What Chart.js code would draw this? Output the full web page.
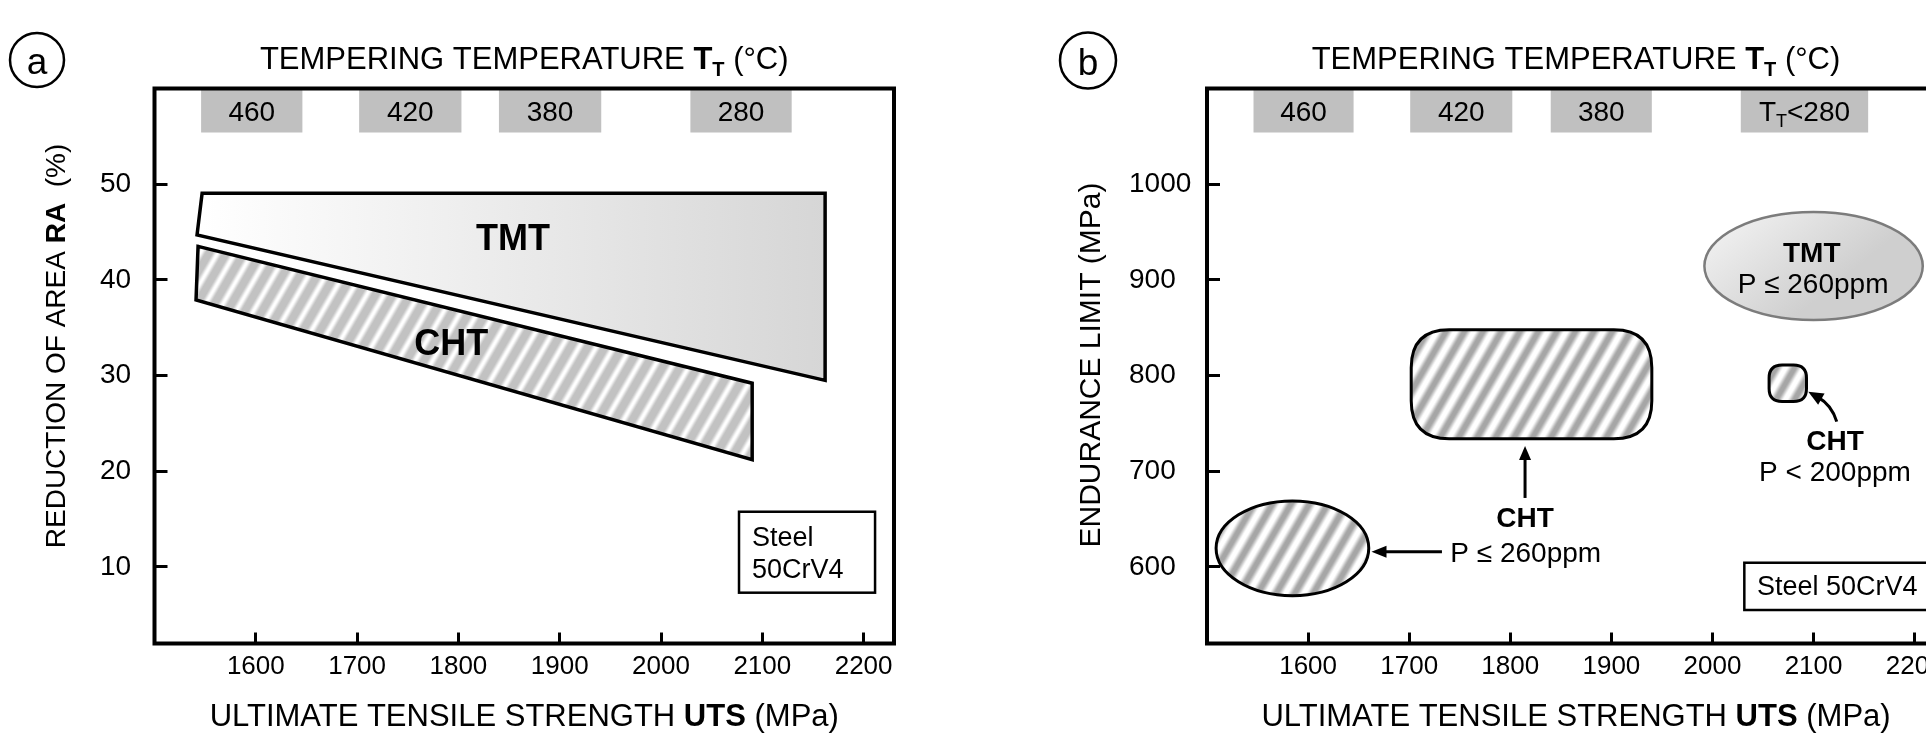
<!DOCTYPE html>
<html>
<head>
<meta charset="utf-8">
<title>UTS vs RA and endurance limit, 50CrV4</title>
<script src="https://cdn.jsdelivr.net/npm/chart.js@4.4.1/dist/chart.umd.min.js"></script>
<style>
  html, body { margin: 0; padding: 0; background: #fff; overflow: hidden; }
  #wrap { position: relative; width: 1926px; height: 741px; overflow: hidden; }
  canvas { position: absolute; top: 0; }
  #chartA { left: 0; }
  #chartB { left: 1000px; }
</style>
</head>
<body>
<div id="wrap">
  <canvas id="chartA" width="1000" height="741"></canvas>
  <canvas id="chartB" width="1000" height="741"></canvas>
</div>
<script>
// values
const utsTicks = [1600, 1700, 1800, 1900, 2000, 2100, 2200];
const raTicks = [10, 20, 30, 40, 50];
const enduranceTicks = [600, 700, 800, 900, 1000];

// tempering temperature bands (UTS span of each grey box)
const temperLabelsA = ['460', '420', '380', '280'];
const temperFromA = [1546, 1702, 1840, 2029];
const temperToA = [1646, 1803, 1941, 2129];
const temperLabelsB = ['460', '420', '380', 'T_T<280'];
const temperFromB = [1546, 1701, 1840, 2028];
const temperToB = [1645, 1802, 1940, 2154];

// panel a: RA bands, corners in order
const tmtUts = [1547, 2162, 2162, 1542];
const tmtRa = [49.05, 49.05, 29.5, 44.7];
const chtUts = [1543, 2090, 2090, 1541];
const chtRa = [43.5, 29.2, 21.2, 37.9];

// panel b: endurance limit regions
const regionNames = ['CHT P≤260ppm', 'CHT P≤260ppm', 'CHT P<200ppm', 'TMT P≤260ppm'];
const regionUtsLo = [1509, 1702, 2056, 1992];
const regionUtsHi = [1660, 1940, 2093, 2208];
const regionElLo = [570, 734, 773, 858];
const regionElHi = [669, 848, 811, 971];

const FONT = "'Liberation Sans', Arial, Helvetica, sans-serif";

function setFont(ctx, size, bold) {
  ctx.font = (bold ? 'bold ' : '') + size + 'px ' + FONT;
}
const R = (t, s) => ({ t, size: s, bold: false });
const B = (t, s) => ({ t, size: s, bold: true });
const SUB = (t, s, dy, bold) => ({ t, size: s, bold: !!bold, dy });

// draws mixed-weight text on one baseline
function richText(ctx, parts, x, y, opts = {}) {
  const align = opts.align || 'center';
  ctx.save();
  ctx.translate(x, y);
  if (opts.rotate) ctx.rotate(opts.rotate);
  ctx.scale(opts.sx || 1, 1);
  ctx.fillStyle = '#000';
  ctx.textBaseline = 'alphabetic';
  ctx.textAlign = 'left';
  let total = 0;
  const widths = parts.map(p => {
    setFont(ctx, p.size, p.bold);
    const w = ctx.measureText(p.t).width;
    total += w;
    return w;
  });
  let cx = align === 'center' ? -total / 2 : (align === 'right' ? -total : 0);
  parts.forEach((p, i) => {
    setFont(ctx, p.size, p.bold);
    ctx.fillText(p.t, cx, p.dy || 0);
    cx += widths[i];
  });
  ctx.restore();
}

function makeHatch(canvas, color, period, a, b) {
  const tile = document.createElement('canvas');
  tile.width = period;
  tile.height = period;
  const g = tile.getContext('2d');
  const grad = g.createLinearGradient(0, 0, period, 0);
  grad.addColorStop(0, '#fff');
  grad.addColorStop(a, '#fff');
  grad.addColorStop(b, color);
  grad.addColorStop(1 - b, color);
  grad.addColorStop(1 - a, '#fff');
  grad.addColorStop(1, '#fff');
  g.fillStyle = grad;
  g.fillRect(0, 0, period, period);
  const pat = canvas.getContext('2d').createPattern(tile, 'repeat');
  pat.setTransform(new DOMMatrix().rotate(30));
  return pat;
}

function closedPath(xs, ys) {
  const pts = xs.map((x, i) => ({ x, y: ys[i] }));
  pts.push(pts[0], pts[1]);
  return pts;
}

function bandBoxes(from, to, lo, hi) {
  return from.map((f, i) => ({
    data: closedPath([f, to[i], to[i], f], [hi, hi, lo, lo]),
    fill: 'shape',
    backgroundColor: '#c0c0c0',
    borderColor: 'rgba(0,0,0,0)',
    borderWidth: 0
  }));
}

function axes(yMin, yMax, yTicks, yWidth) {
  return {
    x: {
      type: 'linear', min: 1500, max: 2230,
      afterBuildTicks: s => { s.ticks = utsTicks.map(v => ({ value: v })); },
      afterFit: s => { s.height = 60; },
      border: { display: false },
      grid: { drawOnChartArea: false, drawTicks: true, tickLength: -11, tickWidth: 3, tickColor: '#000' },
      ticks: { color: '#000', font: { family: FONT, size: 26 }, padding: 19, maxRotation: 0, autoSkip: false, callback: v => String(v) }
    },
    y: {
      type: 'linear', min: yMin, max: yMax,
      afterBuildTicks: s => { s.ticks = yTicks.map(v => ({ value: v })); },
      afterFit: s => { s.width = yWidth; },
      border: { display: false },
      grid: { drawOnChartArea: false, drawTicks: true, tickLength: -13, tickWidth: 3, tickColor: '#000' },
      ticks: { color: '#000', font: { family: FONT, size: 28 }, crossAlign: 'far', autoSkip: false, callback: v => String(v) }
    }
  };
}

function frame(chart) {
  const { ctx, chartArea: a } = chart;
  ctx.save();
  ctx.strokeStyle = '#000';
  ctx.lineWidth = 4;
  ctx.strokeRect(a.left, a.top, a.right - a.left, a.bottom - a.top);
  ctx.restore();
}

function circleLabel(ctx, ch, cx, cy, r) {
  ctx.save();
  ctx.lineWidth = 2.5;
  ctx.strokeStyle = '#000';
  ctx.beginPath();
  ctx.ellipse(cx, cy, r, r, 0, 0, Math.PI * 2);
  ctx.stroke();
  ctx.restore();
  richText(ctx, [R(ch, 37)], cx, cy + 14);
}

function temperText(ctx, label, px, py) {
  const s = 28;
  const base = py + 0.358 * s;
  if (label.startsWith('T_T')) {
    richText(ctx, [R('T', s), SUB('T', 18, 6), R(label.slice(3), s)], px, base);
  } else {
    richText(ctx, [R(label, s)], px, base);
  }
}

function titles(chart, yTitleParts, yTitleX, yTitleY) {
  const { ctx, chartArea: a } = chart;
  const mid = (a.left + a.right) / 2;
  richText(ctx, [R('TEMPERING TEMPERATURE ', 31), B('T', 31), SUB('T', 20, 7, true), R(' (°C)', 31)], mid, a.top - 20);
  richText(ctx, [R('ULTIMATE TENSILE STRENGTH ', 31), B('UTS', 31), R(' (MPa)', 31)], mid, a.bottom + 82);
  richText(ctx, yTitleParts, yTitleX, yTitleY, { rotate: -Math.PI / 2 });
}

function arrowHead(ctx, tx, ty, ang, len, half) {
  ctx.save();
  ctx.translate(tx, ty);
  ctx.rotate(ang);
  ctx.beginPath();
  ctx.moveTo(0, 0);
  ctx.lineTo(-len, -half);
  ctx.lineTo(-len, half);
  ctx.closePath();
  ctx.fill();
  ctx.restore();
}

const lineDefaults = { pointRadius: 0, tension: 0, borderJoinStyle: 'miter' };

// ---------- panel a ----------
const elA = document.getElementById('chartA');
const hatchA = makeHatch(elA, '#c2c2c2', 15, 0.06, 0.28);

const decoA = {
  id: 'decoA',
  afterDatasetsDraw(chart) {
    const { ctx, scales: { x, y } } = chart;
    temperLabelsA.forEach((t, i) => {
      temperText(ctx, t, x.getPixelForValue((temperFromA[i] + temperToA[i]) / 2), y.getPixelForValue(57.7));
    });
    richText(ctx, [B('TMT', 36)], x.getPixelForValue(1854), y.getPixelForValue(44.5) + 13);
    richText(ctx, [B('CHT', 36)], x.getPixelForValue(1793), y.getPixelForValue(33.5) + 13);
    // material box
    const bx0 = x.getPixelForValue(2077), bx1 = x.getPixelForValue(2211.3);
    const by0 = y.getPixelForValue(15.77), by1 = y.getPixelForValue(7.31);
    ctx.save();
    ctx.lineWidth = 2.5;
    ctx.strokeStyle = '#000';
    ctx.strokeRect(bx0, by0, bx1 - bx0, by1 - by0);
    ctx.restore();
    richText(ctx, [R('Steel', 27)], x.getPixelForValue(2089.8), y.getPixelForValue(12.19), { align: 'left' });
    richText(ctx, [R('50CrV4', 27)], x.getPixelForValue(2089.8), y.getPixelForValue(8.81), { align: 'left' });
    frame(chart);
  },
  afterDraw(chart) {
    const { ctx } = chart;
    circleLabel(ctx, 'a', 37, 60, 27);
    titles(chart, [R('REDUCTION OF AREA ', 28), B('RA', 28), R('  (%)', 28)], 65, 346);
  }
};

new Chart(elA, {
  type: 'line',
  data: {
    datasets: [
      ...bandBoxes(temperFromA, temperToA, 55.4, 60),
      {
        data: closedPath(tmtUts, tmtRa), fill: 'shape', borderColor: '#000', borderWidth: 3.5,
        backgroundColor: c => {
          const ch = c.chart;
          if (!ch.chartArea) return '#e8e8e8';
          const g = ch.ctx.createLinearGradient(ch.scales.x.getPixelForValue(tmtUts[0]), 0, ch.scales.x.getPixelForValue(tmtUts[1]), 0);
          g.addColorStop(0, '#ffffff');
          g.addColorStop(1, '#d6d6d6');
          return g;
        }
      },
      { data: closedPath(chtUts, chtRa), fill: 'shape', borderColor: '#000', borderWidth: 3.5, backgroundColor: hatchA }
    ].map(d => Object.assign({}, lineDefaults, d))
  },
  options: {
    responsive: false, animation: false, parsing: true,
    layout: { padding: { left: 100, right: 106, top: 88.5, bottom: 37.5 } },
    plugins: { legend: { display: false }, tooltip: { enabled: false } },
    scales: axes(2, 60, raTicks, 54.5)
  },
  plugins: [decoA]
});

// ---------- panel b ----------
const elB = document.getElementById('chartB');
const hatchB = makeHatch(elB, '#a6a6a6', 16, 0.12, 0.38);

function roundedRect(ctx, x0, y0, x1, y1, r) {
  ctx.beginPath();
  ctx.moveTo(x0 + r, y0);
  ctx.lineTo(x1 - r, y0);
  ctx.quadraticCurveTo(x1, y0, x1, y0 + r);
  ctx.lineTo(x1, y1 - r);
  ctx.quadraticCurveTo(x1, y1, x1 - r, y1);
  ctx.lineTo(x0 + r, y1);
  ctx.quadraticCurveTo(x0, y1, x0, y1 - r);
  ctx.lineTo(x0, y0 + r);
  ctx.quadraticCurveTo(x0, y0, x0 + r, y0);
  ctx.closePath();
}

// outline style of each region: corner radius (null = ellipse)
const regionCorner = [null, 38, 13, null];

const decoB = {
  id: 'decoB',
  afterDatasetsDraw(chart) {
    const { ctx, scales: { x, y } } = chart;
    const P = (u, e) => [x.getPixelForValue(u), y.getPixelForValue(e)];

    temperLabelsB.forEach((t, i) => {
      temperText(ctx, t, x.getPixelForValue((temperFromB[i] + temperToB[i]) / 2), y.getPixelForValue(1077));
    });

    regionNames.forEach((name, i) => {
      const [x0, y0] = P(regionUtsLo[i], regionElHi[i]);
      const [x1, y1] = P(regionUtsHi[i], regionElLo[i]);
      const tmt = name.startsWith('TMT');
      ctx.save();
      if (regionCorner[i] === null) {
        ctx.beginPath();
        ctx.ellipse((x0 + x1) / 2, (y0 + y1) / 2, (x1 - x0) / 2, (y1 - y0) / 2, 0, 0, Math.PI * 2);
      } else {
        roundedRect(ctx, x0, y0, x1, y1, regionCorner[i]);
      }
      if (tmt) {
        const g = ctx.createLinearGradient(x0, y0, x0 + (x1 - x0) * 0.4, y1);
        g.addColorStop(0, '#f6f6f6');
        g.addColorStop(1, '#cfcfcf');
        ctx.fillStyle = g;
        ctx.strokeStyle = '#7c7c7c';
        ctx.lineWidth = 2.5;
      } else {
        ctx.fillStyle = hatchB;
        ctx.strokeStyle = '#000';
        ctx.lineWidth = 3;
      }
      ctx.fill();
      ctx.stroke();
      ctx.restore();
    });

    // labels and arrows
    ctx.save();
    ctx.fillStyle = '#000';
    ctx.strokeStyle = '#000';
    ctx.lineWidth = 3;

    let p = P(2098.2, 929.5);
    richText(ctx, [B('TMT', 28)], p[0], p[1] + 10);
    p = P(2099.5, 896.4);
    richText(ctx, [R('P ≤ 260ppm', 28)], p[0], p[1] + 10);

    p = P(1814.6, 652.5);
    richText(ctx, [B('CHT', 28)], p[0], p[1] + 10);
    p = P(1815.3, 615.9);
    richText(ctx, [R('P ≤ 260ppm', 28)], p[0], p[1] + 10);

    p = P(2121.2, 732.7);
    richText(ctx, [B('CHT', 28)], p[0], p[1] + 10);
    p = P(2121.2, 700.3);
    richText(ctx, [R('P < 200ppm', 28)], p[0], p[1] + 10);

    // vertical arrow to the rounded CHT region
    let a0 = P(1814.6, 672.1), a1 = P(1814.6, 726.4);
    ctx.beginPath();
    ctx.moveTo(a0[0], a0[1]);
    ctx.lineTo(a1[0], a1[1] + 12);
    ctx.stroke();
    arrowHead(ctx, a1[0], a1[1], -Math.PI / 2, 14, 6);

    // horizontal arrow to the CHT ellipse
    a0 = P(1732.4, 615.9); a1 = P(1662.7, 615.9);
    ctx.beginPath();
    ctx.moveTo(a0[0], a0[1]);
    ctx.lineTo(a1[0] + 12, a1[1]);
    ctx.stroke();
    arrowHead(ctx, a1[0], a1[1], Math.PI, 15, 6);

    // curved arrow to the small CHT region
    a0 = P(2122.9, 751.8);
    const c = P(2118, 769.2);
    a1 = P(2094.8, 783.1);
    const ang = Math.atan2(a1[1] - c[1], a1[0] - c[0]);
    ctx.beginPath();
    ctx.moveTo(a0[0], a0[1]);
    ctx.quadraticCurveTo(c[0], c[1], a1[0] - 11 * Math.cos(ang), a1[1] - 11 * Math.sin(ang));
    ctx.stroke();
    arrowHead(ctx, a1[0], a1[1], ang, 15, 6.5);
    ctx.restore();

    // material box
    const [bx0, by0] = P(2031.5, 604.4);
    const [bx1, by1] = P(2220, 555);
    ctx.save();
    ctx.lineWidth = 2.5;
    ctx.strokeStyle = '#000';
    ctx.strokeRect(bx0, by0, bx1 - bx0, by1 - by0);
    ctx.restore();
    p = P(2044, 580.1);
    richText(ctx, [R('Steel 50CrV4', 27)], p[0], p[1] + 9.5, { align: 'left' });

    frame(chart);
  },
  afterDraw(chart) {
    const { ctx } = chart;
    circleLabel(ctx, 'b', 88, 60.5, 28);
    titles(chart, [R('ENDURANCE LIMIT (MPa)', 30)], 100, 365);
  }
};

new Chart(elB, {
  type: 'line',
  data: {
    datasets: bandBoxes(temperFromB, temperToB, 1054, 1100).map(d => Object.assign({}, lineDefaults, d))
  },
  options: {
    responsive: false, animation: false,
    layout: { padding: { left: 129, right: 55, top: 88.5, bottom: 37.5 } },
    plugins: { legend: { display: false }, tooltip: { enabled: false } },
    scales: axes(520, 1100, enduranceTicks, 78)
  },
  plugins: [decoB]
});
</script>
</body>
</html>
